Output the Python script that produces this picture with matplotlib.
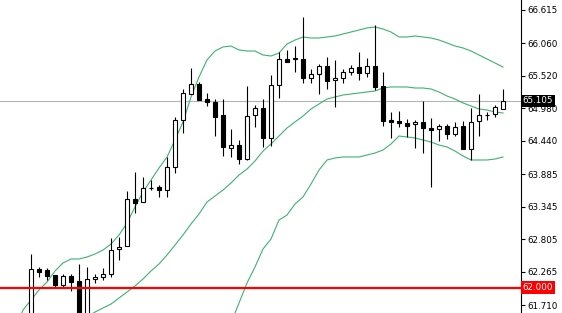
import matplotlib
matplotlib.use("Agg")
import matplotlib.pyplot as plt
import matplotlib.transforms as mtransforms
import numpy as np

# candles: open, high, low, close (index 0 is the first visible candle)
opens = [61.50, 62.308, 62.292, 62.209, 62.042, 62.192, 62.109, 61.45, 62.142, 62.175,
         62.225, 62.641, 62.691, 63.472, 63.422, 63.655, 63.672, 63.622, 64.004, 64.786,
         65.218, 65.385, 65.135, 65.085, 64.869, 64.320, 64.370, 64.137, 64.869, 64.986,
         64.487, 65.368, 65.800, 65.817, 65.800, 65.484, 65.551, 65.684, 65.451, 65.484,
         65.584, 65.667, 65.567, 65.684, 65.351, 64.786, 64.769, 64.736, 64.719, 64.753,
         64.653, 64.636, 64.686, 64.553, 64.686, 64.304, 64.769, 64.869, 64.886, 64.969]
highs = [62.558, 62.342, 62.325, 62.209, 62.225, 62.225, 62.392, 62.342, 62.225, 62.325,
         62.824, 62.840, 63.605, 63.921, 63.838, 63.788, 63.705, 64.171, 64.836, 65.301,
         65.651, 65.418, 65.235, 65.135, 65.135, 64.636, 64.453, 65.351, 65.035, 65.135,
         65.534, 65.917, 65.950, 66.016, 66.499, 65.634, 65.717, 65.834, 65.784, 65.634,
         65.700, 65.917, 65.817, 66.366, 65.584, 64.919, 64.936, 64.803, 64.786, 65.102,
         64.819, 64.719, 64.719, 64.753, 64.769, 64.986, 65.218, 64.919, 65.035, 65.301]
lows = [61.45, 62.175, 62.126, 61.992, 61.992, 61.942, 61.40, 61.40, 62.076, 62.126,
        62.175, 62.458, 62.691, 63.240, 63.422, 63.622, 63.506, 63.506, 63.905, 64.570,
        65.218, 65.119, 65.019, 64.520, 64.187, 64.171, 64.054, 64.121, 64.670, 64.337,
        64.354, 65.152, 65.750, 65.584, 65.401, 65.401, 65.218, 65.301, 65.002, 65.401,
        65.534, 65.451, 65.501, 65.285, 64.686, 64.487, 64.670, 64.503, 64.320, 64.237,
        63.672, 64.437, 64.470, 64.520, 64.304, 64.121, 64.520, 64.786, 64.836, 64.969]
closes = [62.308, 62.258, 62.192, 62.042, 62.192, 62.092, 61.45, 62.142, 62.175, 62.225,
          62.624, 62.674, 63.472, 63.406, 63.655, 63.660, 63.622, 64.004, 64.786, 65.235,
          65.385, 65.119, 65.085, 64.836, 64.337, 64.370, 64.137, 64.852, 64.986, 64.487,
          65.368, 65.800, 65.750, 65.800, 65.484, 65.551, 65.684, 65.434, 65.484, 65.584,
          65.651, 65.567, 65.684, 65.335, 64.769, 64.753, 64.736, 64.686, 64.753, 64.653,
          64.620, 64.686, 64.553, 64.670, 64.304, 64.753, 64.869, 64.875, 65.002, 65.102]

# bollinger bands (index from -2)
upper_band = [61.294, 61.627, 61.793, 61.959, 62.092, 62.275, 62.408, 62.475, 62.475, 62.508,
              62.558, 62.624, 62.724, 62.874, 63.073, 63.339, 63.589, 63.788, 63.988, 64.171,
              64.453, 64.753, 65.168, 65.501, 65.784, 65.933, 66.000, 66.016, 65.950, 65.933,
              65.933, 65.867, 65.850, 65.900, 66.050, 66.116, 66.166, 66.149, 66.149, 66.166,
              66.183, 66.216, 66.249, 66.282, 66.316, 66.332, 66.299, 66.249, 66.166, 66.166,
              66.183, 66.166, 66.149, 66.116, 66.066, 66.016, 65.983, 65.933, 65.867, 65.800,
              65.734, 65.667]
# middle band from index 7
middle_band = [61.510, 61.593, 61.660, 61.726, 61.826, 61.926, 62.026, 62.142, 62.275, 62.392,
               62.541, 62.707, 62.874, 63.057, 63.223, 63.422, 63.522, 63.622, 63.738, 63.871,
               63.971, 64.104, 64.270, 64.387, 64.520, 64.653, 64.753, 64.852, 64.969, 65.052,
               65.135, 65.168, 65.202, 65.218, 65.235, 65.252, 65.268, 65.318, 65.335, 65.335,
               65.335, 65.318, 65.318, 65.301, 65.252, 65.185, 65.135, 65.069, 65.019, 64.969,
               64.952, 64.919, 64.902]
# lower band from index 24
lower_band = [60.96, 61.41, 61.743, 62.076, 62.342, 62.641, 62.807, 63.123, 63.206, 63.389,
              63.506, 63.722, 63.954, 64.121, 64.154, 64.171, 64.171, 64.171, 64.204, 64.237,
              64.287, 64.387, 64.520, 64.503, 64.487, 64.453, 64.420, 64.370, 64.337, 64.270,
              64.187, 64.121, 64.121, 64.121, 64.137, 64.171]

tick_vals = [66.615, 66.060, 65.520, 64.980, 64.440, 63.885, 63.345, 62.805, 62.265, 61.710]
last_price = 65.105
level_price = 62.000

fig = plt.figure(figsize=(5.62, 3.13), dpi=100)
ax = fig.add_axes([0, 0, 521 / 562, 1])

o = np.array(opens); c = np.array(closes)
h = np.array(highs); l = np.array(lows)
idx = np.arange(len(o))

green = '#3cb371'
ax.plot(np.arange(-2, -2 + len(upper_band)), upper_band, color=green, lw=0.8)
ax.plot(np.arange(7, 7 + len(middle_band)), middle_band, color=green, lw=0.8)
ax.plot(np.arange(24, 24 + len(lower_band)), lower_band, color=green, lw=0.8)

ax.axhline(last_price, color='#b4b4b4', lw=0.8, zorder=1)
ax.axhline(level_price, color='red', lw=1.6, zorder=5)

ax.vlines(idx, l, h, color='black', lw=0.8, zorder=2)
bottoms = np.minimum(o, c)
heights = np.maximum(np.abs(c - o), 0.004)
fc = ['white' if cc >= oo else 'black' for oo, cc in zip(o, c)]
ax.bar(idx, heights, bottom=bottoms, width=0.6, color=fc, edgecolor='black',
       linewidth=0.8, zorder=3)

ax.set_xlim(-3.875, 61.25)
ax.set_ylim(61.577, 66.781)
ax.set_xticks([])
for s in ['top', 'left', 'bottom']:
    ax.spines[s].set_visible(False)
ax.spines['right'].set_linewidth(0.8)
ax.yaxis.tick_right()
ax.set_yticks(tick_vals)
ax.set_yticklabels(['%.3f' % v for v in tick_vals])
ax.tick_params(axis='y', direction='out', length=3, width=0.8, pad=1.5, labelsize=6.3)

trans = mtransforms.blended_transform_factory(ax.transAxes, ax.transData)
ax.text(1.003, last_price, '%.3f' % last_price, transform=trans, ha='left', va='center',
        fontsize=6.3, color='white', clip_on=False, zorder=10,
        bbox=dict(boxstyle='square,pad=0.2', fc='black', ec='none'))
ax.text(1.003, level_price, '%.3f' % level_price, transform=trans, ha='left', va='center',
        fontsize=6.3, color='white', clip_on=False, zorder=10,
        bbox=dict(boxstyle='square,pad=0.2', fc='red', ec='none'))

fig.savefig('out.png', dpi=100)
